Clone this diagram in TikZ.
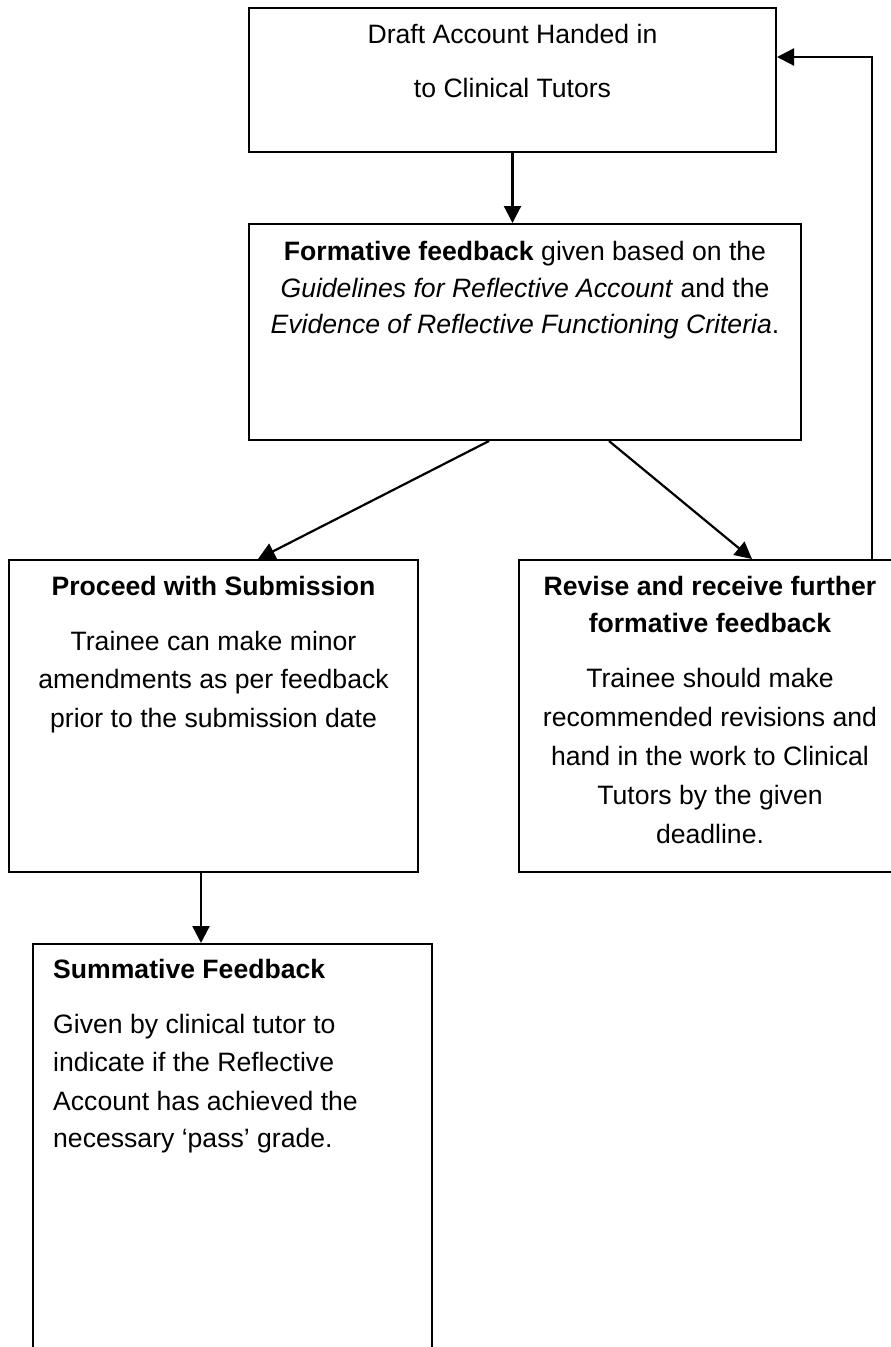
\documentclass[tikz,border=0pt]{standalone}
\usepackage{fontspec}
\setmainfont{Liberation Sans}
\usetikzlibrary{arrows.meta,calc}
\begin{document}
\begin{tikzpicture}[x=1pt,y=-1pt,
  box/.style={draw, line width=2pt, rectangle, inner sep=0pt},
  txt/.style={anchor=base, inner sep=0pt, font=\fontsize{26.6}{38}\selectfont},
  ltxt/.style={txt, anchor=base west},
  arr/.style={-{Triangle[length=17pt,width=17pt]}, line width=2.2pt}]
\path[use as bounding box] (0,0) rectangle (891,1347);
\clip (0,0) rectangle (891,1347);
% boxes
\node[box, minimum width=527pt, minimum height=144pt] (draft) at (512.5,80) {};
\node[box, minimum width=552pt, minimum height=216pt] (formative) at (525,332) {};
\node[box, minimum width=409pt, minimum height=312pt] (proceed) at (213.5,716) {};
\node[box, minimum width=382pt, minimum height=312pt] (revise) at (710,716) {};
\node[box, minimum width=399pt, minimum height=456pt] (summative) at (232.5,1172) {};
% texts
\node[txt] (t1a) at (512.5,43) {Draft Account Handed in};
\node[txt] (t1b) at (512.5,97) {to Clinical Tutors};
\node[txt] (t2a) at (525,260) {\textbf{Formative feedback} given based on the};
\node[txt] (t2b) at (525,297) {\textit{Guidelines for Reflective Account} and the};
\node[txt] (t2c) at (525,333) {\textit{Evidence of Reflective Functioning Criteria}.};
\node[txt] (t3a) at (213.5,595) {\textbf{Proceed with Submission}};
\node[txt] (t3b) at (213.5,650) {Trainee can make minor};
\node[txt] (t3c) at (213.5,688) {amendments as per feedback};
\node[txt] (t3d) at (213.5,727) {prior to the submission date};
\node[txt] (t4a) at (710,595) {\textbf{Revise and receive further}};
\node[txt] (t4b) at (710,632) {\textbf{formative feedback}};
\node[txt] (t4c) at (710,687) {Trainee should make};
\node[txt] (t4d) at (710,726) {recommended revisions and};
\node[txt] (t4e) at (710,765) {hand in the work to Clinical};
\node[txt] (t4f) at (710,804) {Tutors by the given};
\node[txt] (t4g) at (710,843) {deadline.};
\node[ltxt] (t5a) at (53,978) {\textbf{Summative Feedback}};
\node[ltxt] (t5b) at (53,1033) {Given by clinical tutor to};
\node[ltxt] (t5c) at (53,1071) {indicate if the Reflective};
\node[ltxt] (t5d) at (53,1110) {Account has achieved the};
\node[ltxt] (t5e) at (53,1147) {necessary ‘pass’ grade.};
% connectors
\draw[arr] (draft.south) -- (draft.south |- formative.north);
\draw[arr] ($(formative.south)+(-36,0)$) -- ($(proceed.north)+(44.5,0)$);
\draw[arr] ($(formative.south)+(84,0)$) -- ($(revise.north)+(42,0)$);
\draw[arr] ($(proceed.south)+(-12.5,0)$) -- ($(proceed.south |- summative.north)+(-12.5,0)$);
\draw[arr] ($(revise.north)+(162,0)$) |- ($(draft.east)+(0,-23)$);
\end{tikzpicture}
\end{document}
